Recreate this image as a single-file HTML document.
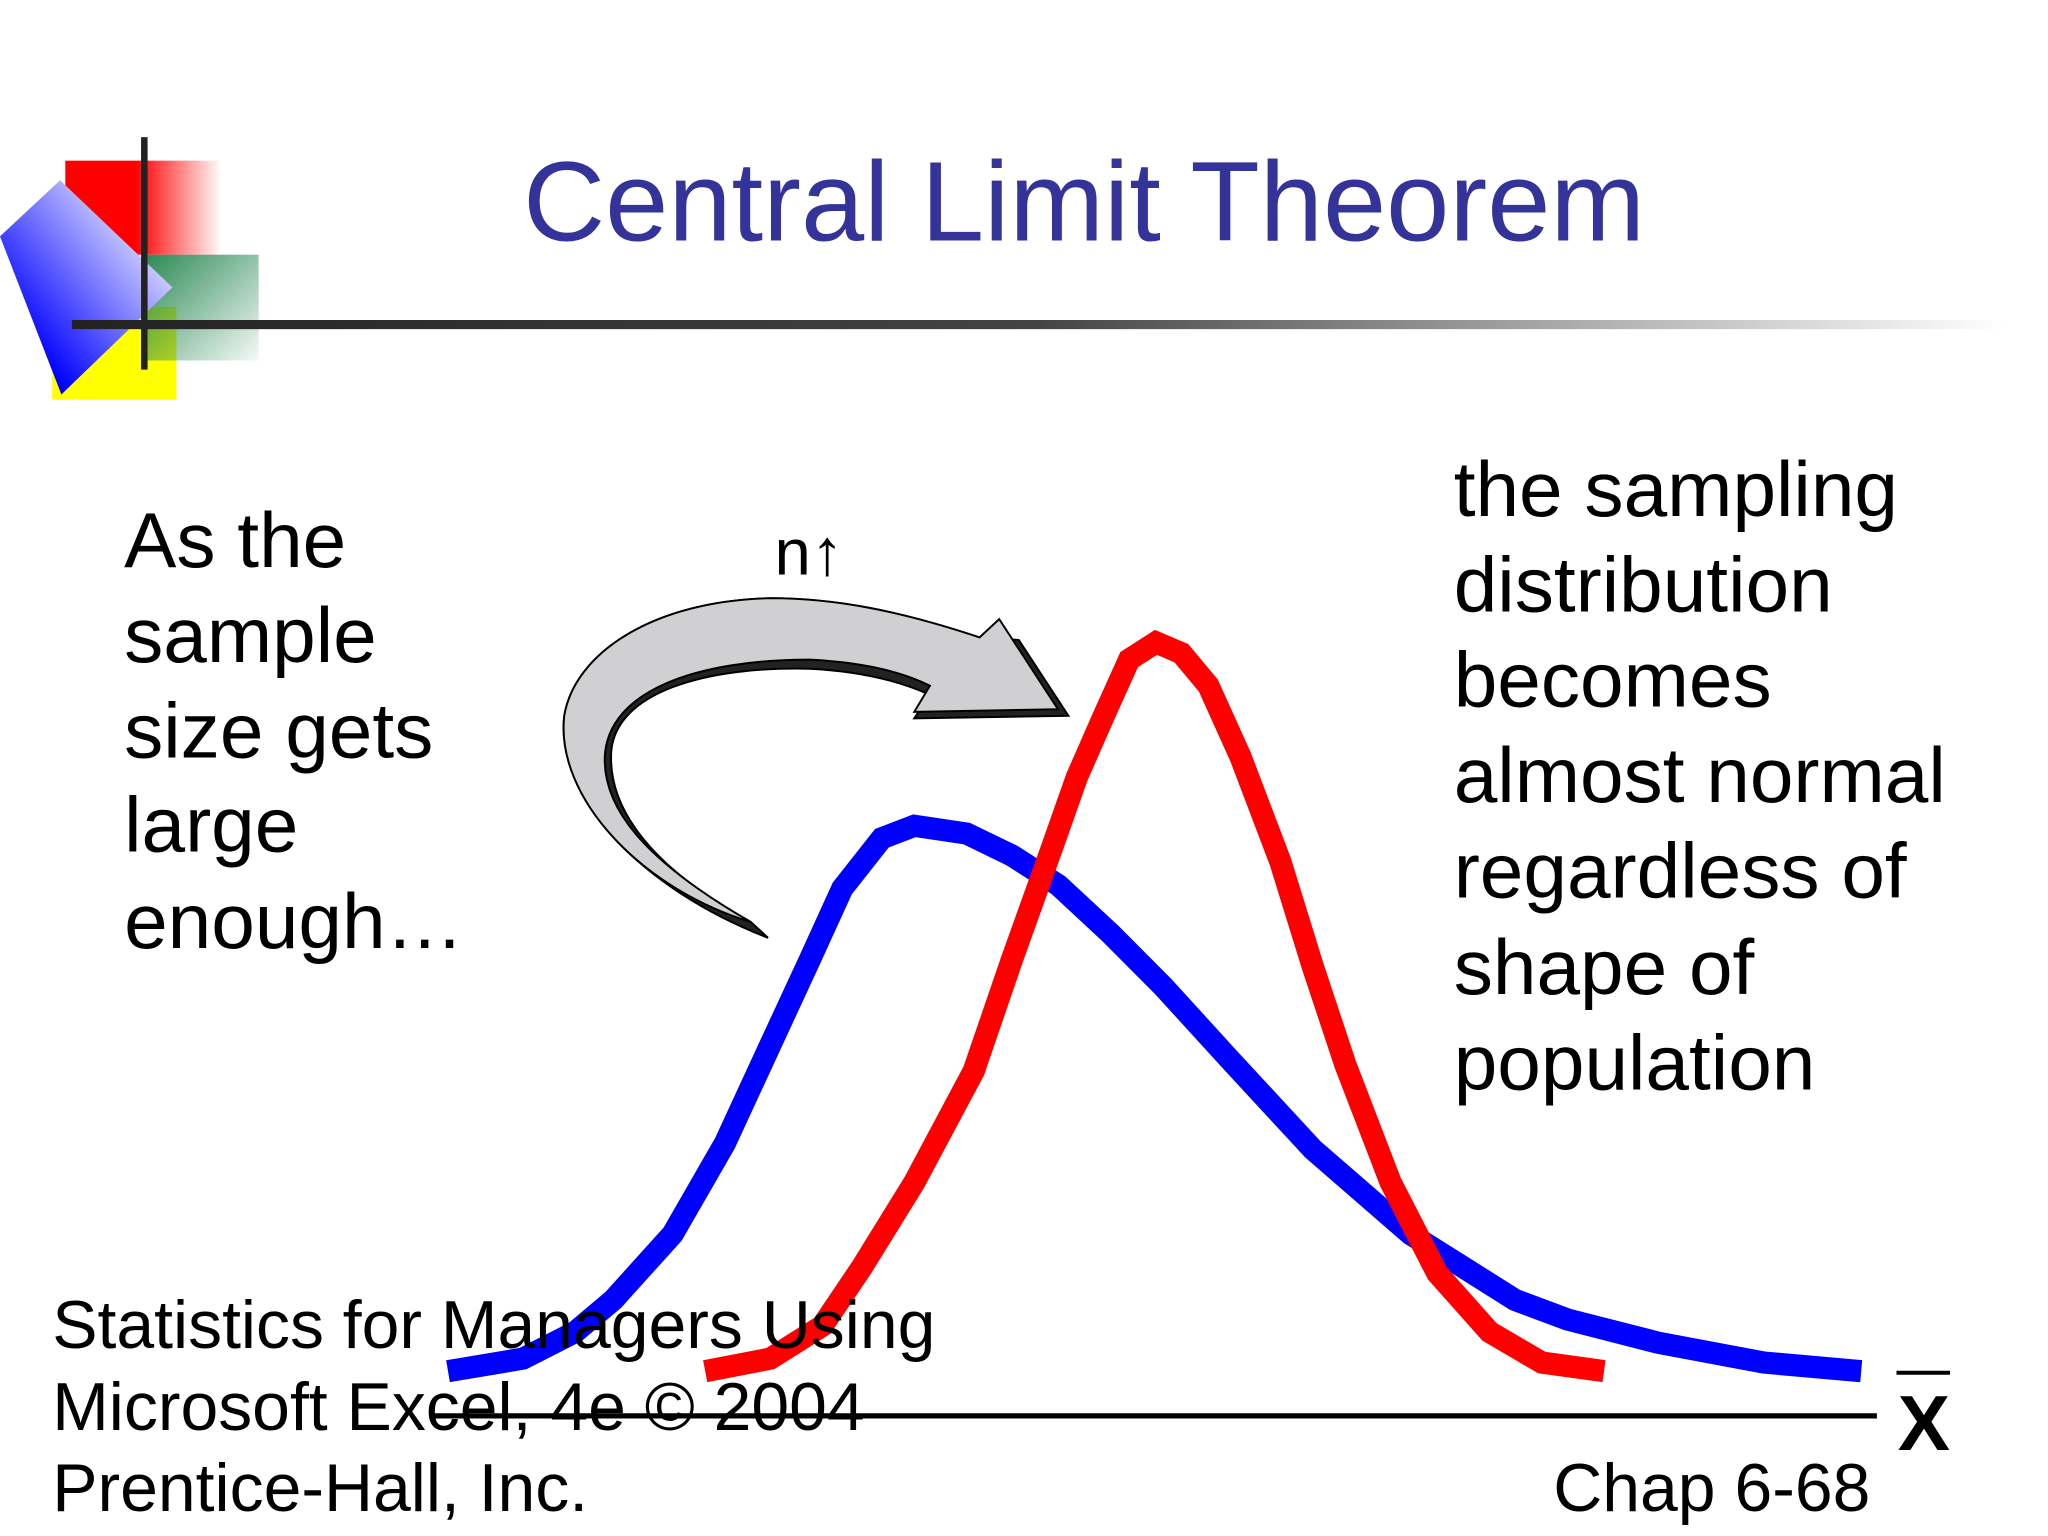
<!DOCTYPE html>
<html><head><meta charset="utf-8"><style>
html,body{margin:0;padding:0;background:#fff}
svg{display:block}
text{font-family:"Liberation Sans",sans-serif}
</style></head><body>
<svg width="2048" height="1536" viewBox="0 0 1568 1176">
<defs>
<linearGradient id="rg" x1="0" x2="1"><stop offset="0.45" stop-color="#f00"/><stop offset="1" stop-color="#f00" stop-opacity="0"/></linearGradient>
<linearGradient id="gg" x1="0" y1="0" x2="1" y2="1"><stop offset="0" stop-color="#2e8b57"/><stop offset="1" stop-color="#2e8b57" stop-opacity="0.05"/></linearGradient>
<linearGradient id="bg" x1="0" y1="1" x2="1" y2="0"><stop offset="0.2" stop-color="#00f"/><stop offset="0.9" stop-color="#fff"/></linearGradient>
<linearGradient id="lg" x1="0" x2="1"><stop offset="0" stop-color="#222"/><stop offset="0.5" stop-color="#444"/><stop offset="1" stop-color="#fff"/></linearGradient>
</defs>
<g>
<rect x="50" y="123" width="120" height="72" fill="url(#rg)"/>
<rect x="40" y="235" width="95" height="71" fill="#ff0"/>
<rect x="113" y="195" width="85" height="81" fill="url(#gg)"/>
<polygon points="0,181 46,138 132,220 47,302" fill="url(#bg)"/>
<rect x="108" y="105" width="5" height="178" fill="#222"/>
</g>
<rect x="55" y="245" width="1480" height="7" fill="url(#lg)"/>
<text x="830" y="184" font-size="87" fill="#333399" text-anchor="middle">Central Limit Theorem</text>
<g font-size="60" fill="#000">
<text x="95" y="434">As the</text><text x="95" y="507">sample</text><text x="95" y="580">size gets</text><text x="95" y="652">large</text><text x="95" y="726">enough…</text>
</g>
<g font-size="60" fill="#000">
<text x="1113" y="395">the sampling</text><text x="1113" y="468">distribution</text><text x="1113" y="541">becomes</text><text x="1113" y="614">almost normal</text><text x="1113" y="687">regardless of</text><text x="1113" y="761">shape of</text><text x="1113" y="834">population</text>
</g>
<text x="593" y="440" font-size="50">n↑</text>
<g stroke="#000" stroke-width="1.5">
<path d="M575,706 C500,665 465,620 468,575 C472,530 540,510 620,512 C660,514 690,522 712,532 L700,550 L818,548 L780,490 L748,488 C690,468 640,458 590,458 C500,460 440,500 432,548 C425,610 490,680 588,718 Z" fill="#222"/>
<path d="M575,706 C495,660 462,620 463,580 C465,528 535,505 620,505 C660,507 690,514 712,525 L700,545 L810,543 L765,474 L750,488 C690,468 640,458 590,458 C500,460 440,500 432,548 C425,610 490,680 575,706 Z" fill="#d0d0d2"/>
</g>
<line x1="330" y1="1084" x2="1437" y2="1084" stroke="#000" stroke-width="4"/>
<line x1="1452" y1="1051" x2="1493" y2="1051" stroke="#000" stroke-width="3"/>
<text x="1473" y="1110" font-size="60" font-weight="bold" text-anchor="middle">X</text>
<g id="curves"></g>
<g font-size="52" fill="#000">
<text x="40" y="1032">Statistics for Managers Using</text>
<text x="40" y="1095">Microsoft Excel, 4e © 2004</text>
<text x="40" y="1157">Prentice-Hall, Inc.</text>
<text x="1432" y="1157" text-anchor="end">Chap 6-68</text>
</g>
</svg>
<script>
const popX = [0,5.3,9,11.7,15.9,19.6,22.8,25.6,27.9,30.7,33,36.7,39.9,43.2,46.9,50.6,55.2,61.2,68.1,75.5,79.2,85.7,93.1,100];
const popY = [5.7,7.3,10.7,14.8,23.2,34.8,47.3,58.2,67.3,73.7,75.3,74.3,71.5,67.7,61.5,54.8,45.7,34,23.2,14.8,12.3,9.3,6.8,5.7];
const sampX = [18.2,22.8,26.5,29.3,33,37.2,39.9,42.7,44.5,46.4,48.2,50.1,51.9,53.8,56.1,58.9,61.2,63.5,66.7,70,73.7,77.4,81.8];
const sampY = [5.7,7.3,11.5,19,29.8,44,58.2,72.3,81.5,89.3,96.5,98.7,97.3,93.2,84,70.7,57.3,44.8,29.8,18.2,10.7,6.8,5.7];
function xS(v){return 343+v*10.82;}
function yS(v){return 1084-v*6;}
const g=document.getElementById('curves');
function draw(xs,ys,color,name){
  const p=document.createElementNS('http://www.w3.org/2000/svg','polyline');
  p.setAttribute('points',xs.map((x,i)=>xS(x)+','+yS(ys[i])).join(' '));
  p.setAttribute('fill','none');p.setAttribute('stroke',color);
  p.setAttribute('stroke-width','17');p.setAttribute('stroke-linejoin','miter');
  
  
  g.appendChild(p);
}
draw(popX,popY,'#0000ff','population-curve');
draw(sampX,sampY,'#ff0000','sampling-distribution-curve');
</script>
</body></html>
